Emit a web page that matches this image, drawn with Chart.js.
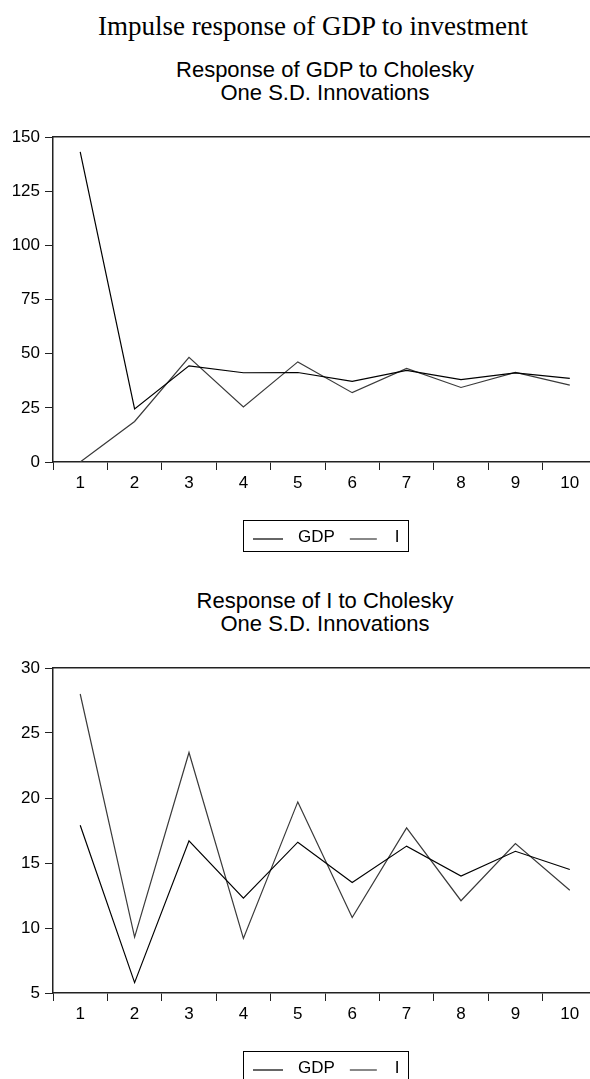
<!DOCTYPE html>
<html>
<head>
<meta charset="utf-8">
<title>Impulse response of GDP to investment</title>
<script src="https://cdn.jsdelivr.net/npm/chart.js@4.4.0/dist/chart.umd.min.js"></script>
<style>
  html, body { margin: 0; padding: 0; background: #fff; }
  body { width: 590px; height: 1079px; overflow: hidden; position: relative; }
  .t { position: absolute; white-space: nowrap; text-align: center; color: #000; }
  .main { left: 0; width: 626px; top: 11px; font: 27px/30px "Liberation Serif", "Times New Roman", serif; }
  .sub { left: 53px; width: 544px; font: 22px/23px "Liberation Sans", Arial, sans-serif; }
  canvas { position: absolute; left: 0; }
</style>
</head>
<body>
<div class="t main">Impulse response of GDP to investment</div>

<div class="t sub" style="top:58px">Response of GDP to Cholesky<br>One S.D. Innovations</div>
<canvas id="gdpChart" width="620" height="440" style="top:120px"></canvas>

<div class="t sub" style="top:589px">Response of I to Cholesky<br>One S.D. Innovations</div>
<canvas id="invChart" width="620" height="440" style="top:651px"></canvas>

<script>
// Forecast horizon (periods after the shock)
const periods = ['1', '2', '3', '4', '5', '6', '7', '8', '9', '10'];
const seriesNames = ['GDP', 'I'];

// Response of GDP to a one S.D. shock in GDP and in I
const gdpToGdpShock = [143.1, 24.5, 44.4, 41.2, 41.3, 37.2, 42.3, 38.0, 41.1, 38.6];
const gdpToIShock   = [0.0, 18.7, 48.3, 25.4, 46.2, 32.0, 43.2, 34.4, 41.4, 35.5];

// Response of I to a one S.D. shock in GDP and in I
const iToGdpShock = [17.9, 5.8, 16.7, 12.3, 16.6, 13.5, 16.3, 14.0, 15.9, 14.5];
const iToIShock   = [28.0, 9.3, 23.5, 9.2, 19.7, 10.8, 17.7, 12.1, 16.5, 12.9];

// Value-axis ticks for each panel
const gdpAxisTicks = [0, 25, 50, 75, 100, 125, 150];
const iAxisTicks = [5, 10, 15, 20, 25, 30];

const FONT = '"Liberation Sans", Arial, sans-serif';
const AXIS = '#222';

// Boxed legend under the plot: a short line in each series colour, then its name
const boxedLegend = {
  id: 'boxedLegend',
  afterDraw(chart, args, o) {
    const ctx = chart.ctx;
    const area = chart.chartArea;
    ctx.save();
    ctx.font = o.fontSize + 'px ' + FONT;
    const items = chart.data.datasets.map((ds, i) => ({
      text: ds.label,
      color: ds.borderColor,
      width: ds.borderWidth,
      line: o.lineLengths[i],
      gap: o.textGaps[i],
      tw: ctx.measureText(ds.label).width
    }));
    let total = o.padLeft + o.padRight;
    items.forEach((it, i) => { total += it.line + it.gap + it.tw + (i ? o.itemGap : 0); });
    total = Math.round(total);
    const left = Math.round((area.left + area.right) / 2 - total / 2);
    const top = Math.round(area.bottom + o.offset);
    ctx.strokeStyle = '#000';
    ctx.lineWidth = 1;
    ctx.strokeRect(left + 0.5, top + 0.5, total, o.height);
    let x = left + o.padLeft;
    items.forEach((it, i) => {
      if (i) x += o.itemGap;
      ctx.beginPath();
      ctx.strokeStyle = it.color;
      ctx.lineWidth = it.width;
      ctx.moveTo(x, top + o.lineY);
      ctx.lineTo(x + it.line, top + o.lineY);
      ctx.stroke();
      x += it.line + it.gap;
      ctx.fillStyle = '#000';
      ctx.textBaseline = 'alphabetic';
      ctx.textAlign = 'left';
      ctx.fillText(it.text, x, top + o.textY);
      x += it.tw;
    });
    ctx.restore();
  }
};

function drawResponse(canvasId, gdpSeries, iSeries, tickValues) {
  return new Chart(document.getElementById(canvasId), {
    type: 'line',
    data: {
      labels: periods,
      datasets: [
        { label: seriesNames[0], data: gdpSeries, borderColor: '#000000', borderWidth: 1.2,
          pointRadius: 0, fill: false, tension: 0, xAxisID: 'x', yAxisID: 'y' },
        { label: seriesNames[1], data: iSeries, borderColor: '#3a3a3a', borderWidth: 1.2,
          pointRadius: 0, fill: false, tension: 0, xAxisID: 'x', yAxisID: 'y' }
      ]
    },
    options: {
      responsive: false,
      animation: false,
      devicePixelRatio: 1,
      layout: { padding: { top: 17, right: 23, bottom: 67, left: 0 } },
      plugins: {
        legend: { display: false },
        tooltip: { enabled: false },
        boxedLegend: {
          fontSize: 17, lineLengths: [30, 27], textGaps: [15, 18], itemGap: 15,
          padLeft: 10, padRight: 8, offset: 58.4, height: 31, lineY: 19, textY: 22
        }
      },
      scales: {
        x: {
          type: 'category',
          position: 'bottom',
          offset: true,
          grid: { display: true, offset: true, drawOnChartArea: false, drawTicks: true,
                  tickLength: 8, color: AXIS, lineWidth: 1 },
          border: { display: true, color: AXIS, width: 1.5 },
          ticks: { color: '#000', font: { family: FONT, size: 17 }, padding: 3,
                   maxRotation: 0, autoSkip: false },
          afterFit(s) { s.height = 31; }
        },
        xTop: {
          type: 'category',
          position: 'top',
          offset: true,
          grid: { display: false },
          ticks: { display: false },
          border: { display: true, color: AXIS, width: 1.5 },
          afterFit(s) { s.height = 0; }
        },
        y: {
          type: 'linear',
          position: 'left',
          min: tickValues[0],
          max: tickValues[tickValues.length - 1],
          afterBuildTicks(s) { s.ticks = tickValues.map(v => ({ value: v })); },
          grid: { drawOnChartArea: false, drawTicks: true, tickLength: 8, color: AXIS, lineWidth: 1 },
          border: { display: true, color: AXIS, width: 1.5 },
          ticks: { color: '#000', font: { family: FONT, size: 17 }, padding: 5 },
          afterFit(s) { s.width = 53; }
        }
      }
    },
    plugins: [boxedLegend]
  });
}

drawResponse('gdpChart', gdpToGdpShock, gdpToIShock, gdpAxisTicks);
drawResponse('invChart', iToGdpShock, iToIShock, iAxisTicks);
</script>
</body>
</html>
